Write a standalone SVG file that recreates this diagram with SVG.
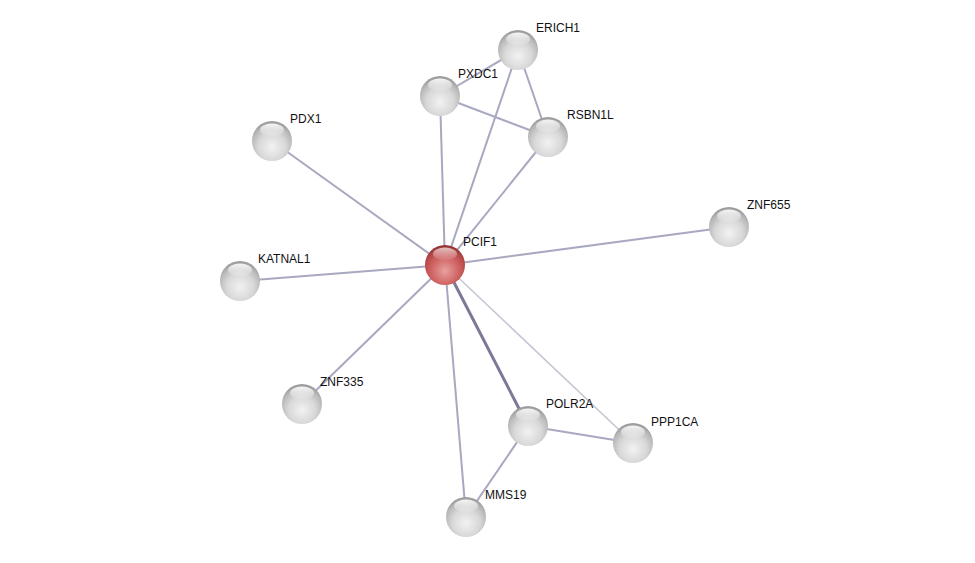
<svg xmlns="http://www.w3.org/2000/svg" width="975" height="563" viewBox="0 0 975 563">
<defs>
<radialGradient id="g" cx="0.5" cy="0.65" r="0.62">
<stop offset="0" stop-color="#f2f2f2"/>
<stop offset="0.55" stop-color="#d8d8d8"/>
<stop offset="0.85" stop-color="#b8b8b8"/>
<stop offset="1" stop-color="#9c9c9c"/>
</radialGradient>
<radialGradient id="r" cx="0.5" cy="0.65" r="0.62">
<stop offset="0" stop-color="#e8a0a0"/>
<stop offset="0.55" stop-color="#d06464"/>
<stop offset="0.85" stop-color="#b84848"/>
<stop offset="1" stop-color="#953535"/>
</radialGradient>
<linearGradient id="hl" x1="0" y1="0" x2="0" y2="1">
<stop offset="0" stop-color="#fff" stop-opacity="0.9"/>
<stop offset="1" stop-color="#fff" stop-opacity="0.05"/>
</linearGradient>
<g id="ball"><circle r="20" fill="url(#g)"/><ellipse cx="0" cy="-11" rx="12" ry="6.5" fill="url(#hl)"/></g>
<g id="rball"><circle r="20" fill="url(#r)"/><ellipse cx="0" cy="-11" rx="12" ry="6.5" fill="url(#hl)" opacity="0.75"/></g>
</defs>
<style>
.e{stroke:#a8a8c0;stroke-width:2;fill:none}
.e2{stroke:#7a7a98;stroke-width:3;fill:none}
.e3{stroke:#c4c4d2;stroke-width:1.5;fill:none}
text{font-family:"Liberation Sans",Arial,sans-serif;font-size:12px;fill:#111}
</style>
<rect width="975" height="563" fill="#fff"/>
<g id="edges">
<line class="e" x1="518" y1="50" x2="440" y2="96"/>
<line class="e" x1="518" y1="50" x2="548" y2="137"/>
<line class="e" x1="440" y1="96" x2="548" y2="137"/>
<line class="e" x1="445" y1="265" x2="440" y2="96"/>
<line class="e" x1="445" y1="265" x2="518" y2="50"/>
<line class="e" x1="445" y1="265" x2="548" y2="137"/>
<line class="e" x1="445" y1="265" x2="272" y2="141"/>
<line class="e" x1="445" y1="265" x2="729" y2="227"/>
<line class="e" x1="445" y1="265" x2="240" y2="281"/>
<line class="e" x1="445" y1="265" x2="302" y2="404"/>
<line class="e" x1="445" y1="265" x2="466" y2="517"/>
<line class="e2" x1="445" y1="265" x2="528" y2="426"/>
<line class="e3" x1="445" y1="265" x2="633" y2="443"/>
<line class="e" x1="528" y1="426" x2="633" y2="443"/>
<line class="e" x1="528" y1="426" x2="466" y2="517"/>
</g>
<g id="ERICH1"><use href="#ball" x="518" y="50"/><text x="536" y="32">ERICH1</text></g>
<g id="PXDC1"><use href="#ball" x="440" y="96"/><text x="458" y="78">PXDC1</text></g>
<g id="RSBN1L"><use href="#ball" x="548" y="137"/><text x="567" y="119">RSBN1L</text></g>
<g id="PDX1"><use href="#ball" x="272" y="141"/><text x="290" y="123">PDX1</text></g>
<g id="ZNF655"><use href="#ball" x="729" y="227"/><text x="747" y="209">ZNF655</text></g>
<g id="KATNAL1"><use href="#ball" x="240" y="281"/><text x="258" y="263">KATNAL1</text></g>
<g id="ZNF335"><use href="#ball" x="302" y="404"/><text x="320" y="386">ZNF335</text></g>
<g id="POLR2A"><use href="#ball" x="528" y="426"/><text x="546" y="408">POLR2A</text></g>
<g id="PPP1CA"><use href="#ball" x="633" y="443"/><text x="651" y="426">PPP1CA</text></g>
<g id="MMS19"><use href="#ball" x="466" y="517"/><text x="485" y="499">MMS19</text></g>
<g id="PCIF1"><use href="#rball" x="445" y="265"/><text x="463" y="246">PCIF1</text></g>
</svg>
